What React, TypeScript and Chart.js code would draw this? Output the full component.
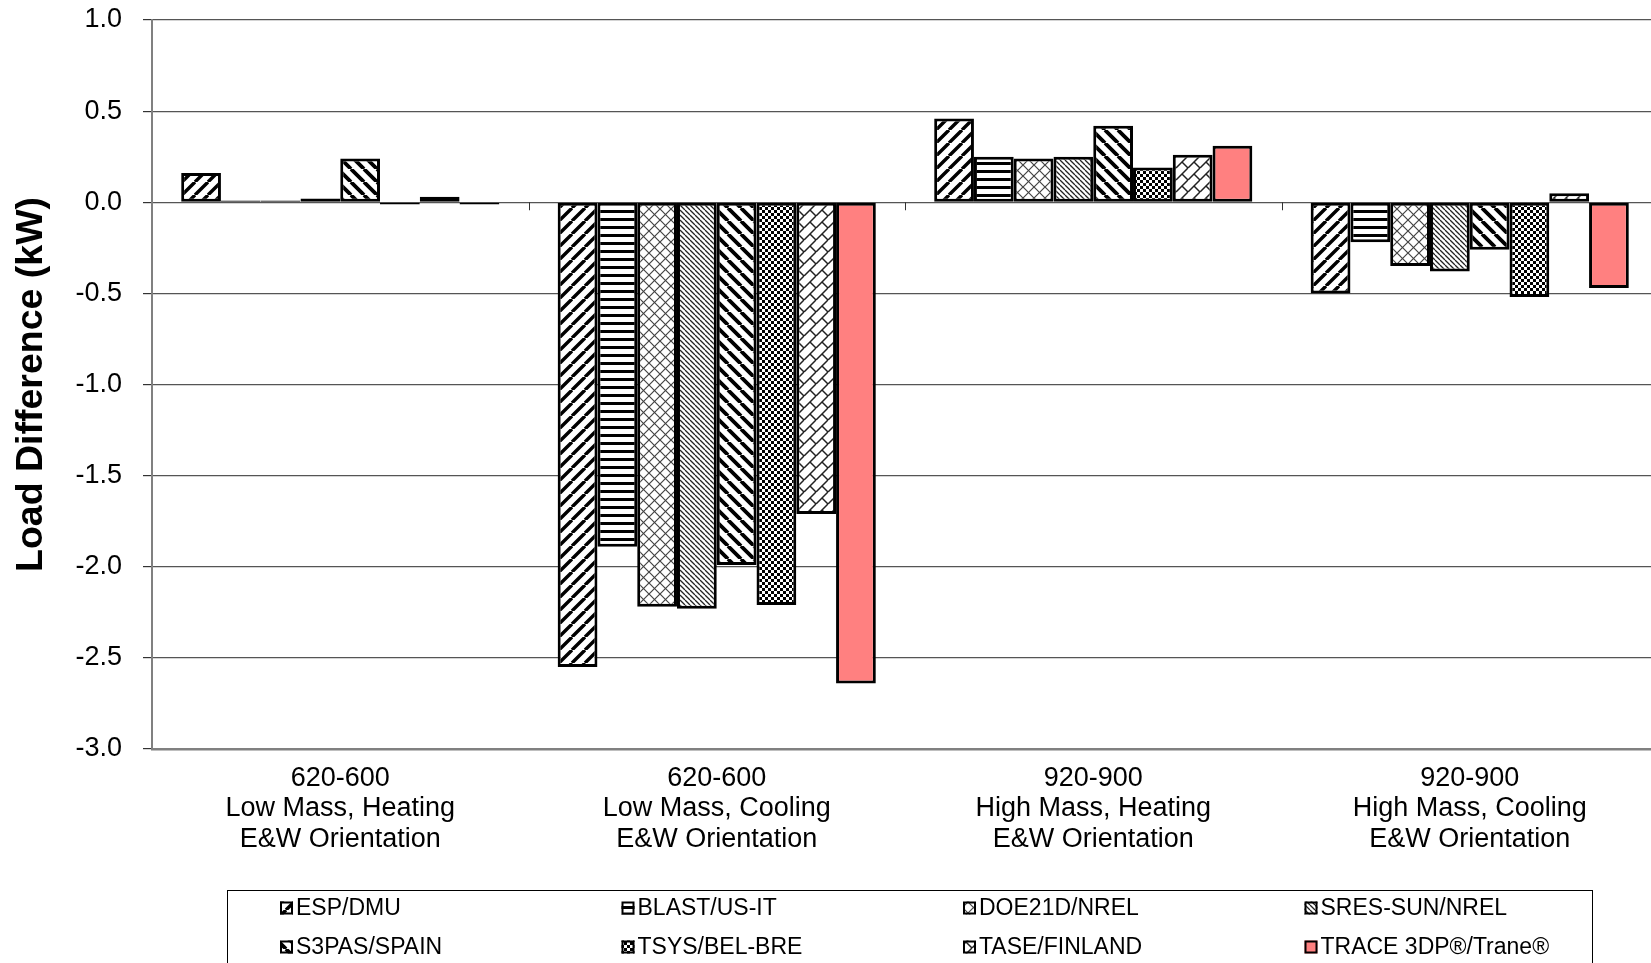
import React, { useEffect, useRef } from "react";
import { Chart, registerables } from "chart.js";

Chart.register(...registerables);

// ---------------- data ----------------
const categories: string[][] = [
  ["620-600", "Low Mass, Heating", "E&W Orientation"],
  ["620-600", "Low Mass, Cooling", "E&W Orientation"],
  ["920-900", "High Mass, Heating", "E&W Orientation"],
  ["920-900", "High Mass, Cooling", "E&W Orientation"],
];

const seriesNames = [
  "ESP/DMU",
  "BLAST/US-IT",
  "DOE21D/NREL",
  "SRES-SUN/NREL",
  "S3PAS/SPAIN",
  "TSYS/BEL-BRE",
  "TASE/FINLAND",
  "TRACE 3DP®/Trane®",
];

const espDmu = [0.16, -2.55, 0.46, -0.5];
const blastUsIt = [0.01, -1.89, 0.25, -0.22];
const doe21dNrel = [0.01, -2.22, 0.24, -0.35];
const sresSunNrel = [0.02, -2.23, 0.25, -0.38];
const s3pasSpain = [0.24, -1.99, 0.42, -0.26];
const tsysBelBre = [-0.012, -2.21, 0.19, -0.52];
const taseFinland = [0.03, -1.71, 0.26, 0.05];
const trace3dp = [-0.012, -2.64, 0.31, -0.47];

const seriesValues = [
  espDmu,
  blastUsIt,
  doe21dNrel,
  sresSunNrel,
  s3pasSpain,
  tsysBelBre,
  taseFinland,
  trace3dp,
];

const yMin = -3;
const yMax = 1;
const yStep = 0.5;

const patternKinds = ["fwdWide", "horiz", "diagCross", "backFine", "backWide", "checker", "diagBrick", "solid"];

const FONT = "'Liberation Sans', Arial, Helvetica, sans-serif";

// ---------------- patterns ----------------
function makePattern(kind: string): CanvasPattern | string {
  if (kind === "solid") return "#FF8080";
  const c = document.createElement("canvas");
  let p = 12;
  if (kind === "fwdWide" || kind === "backWide") p = 13;
  if (kind === "horiz") p = 8;
  if (kind === "diagCross") p = 11;
  if (kind === "backFine") p = 5;
  if (kind === "checker") p = 6;
  if (kind === "diagBrick") p = 12;
  c.width = p;
  c.height = p;
  const g = c.getContext("2d")!;
  g.fillStyle = "#fff";
  g.fillRect(0, 0, p, p);
  g.strokeStyle = "#000";
  g.fillStyle = "#000";
  g.lineCap = "butt";
  const fwd = (w: number, col: string) => {
    g.strokeStyle = col;
    g.lineWidth = w;
    g.beginPath();
    for (let o = -p; o <= p; o += p) {
      g.moveTo(o, p);
      g.lineTo(o + p, 0);
    }
    g.stroke();
  };
  const back = (w: number, col: string) => {
    g.strokeStyle = col;
    g.lineWidth = w;
    g.beginPath();
    for (let o = -p; o <= p; o += p) {
      g.moveTo(o, 0);
      g.lineTo(o + p, p);
    }
    g.stroke();
  };
  switch (kind) {
    case "fwdWide":
      fwd(3.4, "#000");
      break;
    case "backWide":
      back(3.8, "#000");
      break;
    case "horiz":
      g.fillRect(0, 2, p, 3);
      break;
    case "diagCross":
      fwd(1.2, "#444");
      back(1.2, "#444");
      break;
    case "backFine":
      back(1.3, "#222");
      break;
    case "checker":
      g.fillRect(0, 0, 3, 3);
      g.fillRect(3, 3, 3, 3);
      break;
    case "diagBrick":
      fwd(1.5, "#222");
      g.lineWidth = 1.5;
      g.beginPath();
      g.moveTo(p / 2, p / 2);
      g.lineTo(p, p);
      g.stroke();
      break;
  }
  const pat = g.createPattern(c, "repeat");
  return pat || "#fff";
}

// ---------------- plugins ----------------
const zeroTicksPlugin = {
  id: "zeroTicks",
  afterDraw(chart: any, _args: any, opts: any) {
    const xs = chart.scales.x;
    const ys = chart.scales.y;
    const y0 = ys.getPixelForValue(0);
    const ctx = chart.ctx;
    ctx.save();
    ctx.strokeStyle = opts.color || "#333";
    ctx.lineWidth = 1;
    const n = chart.data.labels.length;
    for (let i = 0; i < n - 1; i++) {
      const x = Math.round((xs.getPixelForValue(i) + xs.getPixelForValue(i + 1)) / 2) + 0.5;
      ctx.beginPath();
      ctx.moveTo(x, y0);
      ctx.lineTo(x, y0 + (opts.length || 8));
      ctx.stroke();
    }
    ctx.restore();
  },
};

const gridLegendPlugin = {
  id: "gridLegend",
  afterDraw(chart: any, _args: any, opts: any) {
    const ctx = chart.ctx;
    ctx.save();
    ctx.strokeStyle = "#000";
    ctx.lineWidth = 1;
    ctx.strokeRect(opts.left + 0.5, opts.top + 0.5, opts.width, opts.height);
    ctx.font = `${opts.fontSize}px ${FONT}`;
    ctx.textBaseline = "middle";
    ctx.textAlign = "left";
    chart.data.datasets.forEach((ds: any, i: number) => {
      const col = i % opts.cols;
      const row = Math.floor(i / opts.cols);
      const x = opts.firstX + col * opts.colGap;
      const y = opts.firstY + row * opts.rowGap;
      const s = opts.box;
      ctx.fillStyle = ds.backgroundColor;
      ctx.fillRect(x, y - s / 2, s, s);
      ctx.lineWidth = 2;
      ctx.strokeStyle = "#000";
      ctx.strokeRect(x + 1, y - s / 2 + 1, s - 2, s - 2);
      ctx.fillStyle = "#000";
      ctx.fillText(ds.label, x + s + 3, y + 1);
    });
    ctx.restore();
  },
};

// ---------------- component ----------------
export default function App() {
  const canvasRef = useRef<HTMLCanvasElement | null>(null);

  useEffect(() => {
    if (!canvasRef.current) return;
    const datasets = seriesNames.map((name, i) => ({
      label: name,
      data: seriesValues[i],
      backgroundColor: makePattern(patternKinds[i]) as any,
      borderColor: "#000",
      borderWidth: 3,
      borderSkipped: false as any,
    }));

    const chart = new Chart(canvasRef.current, {
      type: "bar",
      data: { labels: categories as any, datasets },
      plugins: [zeroTicksPlugin, gridLegendPlugin] as any,
      options: {
        responsive: false,
        animation: false,
        devicePixelRatio: 1,
        layout: { padding: { top: 20, right: 22, bottom: 141, left: 0 } },
        datasets: { bar: { categoryPercentage: 0.845, barPercentage: 1 } },
        plugins: {
          legend: { display: false },
          tooltip: { enabled: false },
          zeroTicks: { color: "#333", length: 8 },
          gridLegend: {
            left: 227,
            top: 890,
            width: 1365,
            height: 100,
            cols: 4,
            firstX: 280,
            colGap: 341.5,
            firstY: 908,
            rowGap: 39,
            box: 13,
            fontSize: 23,
          },
        } as any,
        scales: {
          x: {
            grid: { display: false, drawTicks: false },
            border: { display: true, color: "#808080", width: 2.5 },
            ticks: {
              color: "#000",
              font: { family: FONT, size: 27, lineHeight: 1.13 },
              padding: 14,
              maxRotation: 0,
              autoSkip: false,
            },
            afterFit: (s: any) => {
              s.height = 110;
            },
          } as any,
          y: {
            min: yMin,
            max: yMax,
            ticks: {
              stepSize: yStep,
              color: "#000",
              font: { family: FONT, size: 27 },
              padding: 21,
              callback: (v: any) => Number(v).toFixed(1),
            },
            grid: { color: "#555", lineWidth: 1.2, tickLength: 9, tickColor: "#333" },
            border: { color: "#808080", width: 2 },
            title: {
              display: true,
              text: "Load Difference (kW)",
              color: "#000",
              font: { family: FONT, size: 37.5, weight: "bold", lineHeight: 1.2 },
              padding: { top: 9, bottom: 0 },
            },
            afterFit: (s: any) => {
              s.width = 152;
              s.paddingTop = 0;
              s.paddingBottom = 0;
            },
          } as any,
        },
      },
    });
    return () => chart.destroy();
  }, []);

  return (
    <div
      style={{
        position: "fixed",
        left: 0,
        top: 0,
        width: 1651,
        height: 963,
        overflow: "hidden",
        background: "#fff",
      }}
    >
      <canvas ref={canvasRef} width={1680} height={1000} style={{ display: "block" }} />
    </div>
  );
}
